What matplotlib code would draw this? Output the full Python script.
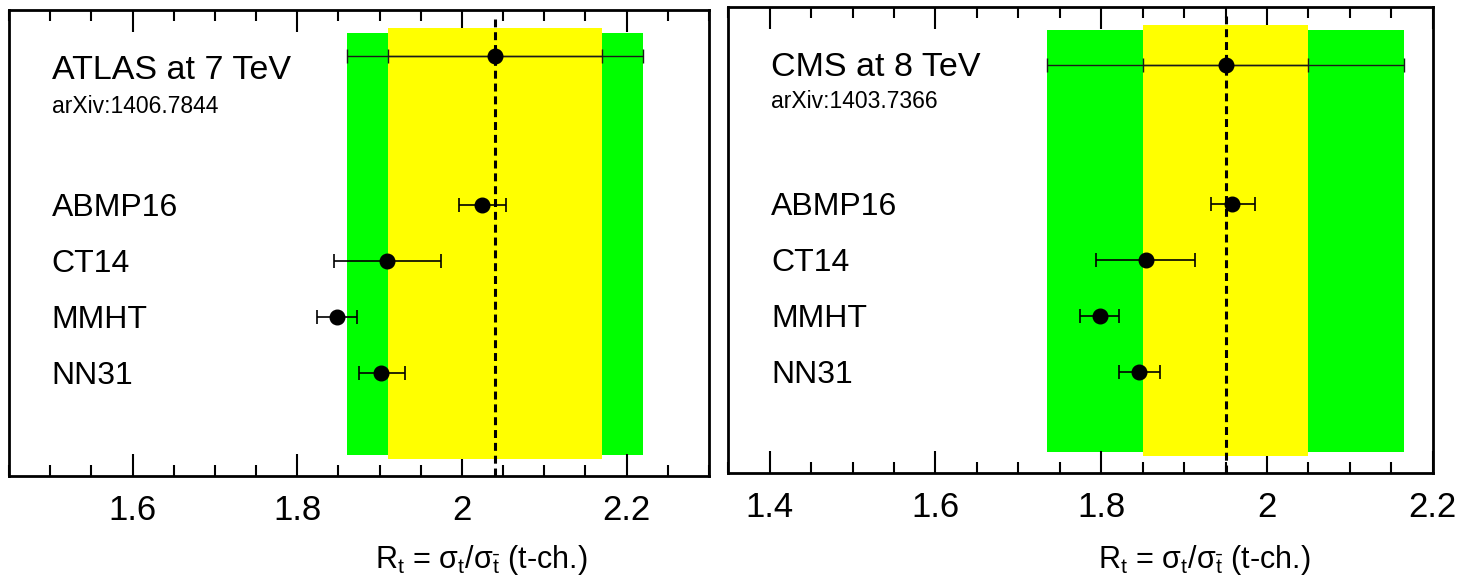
import matplotlib
matplotlib.use("Agg")
import matplotlib.pyplot as plt
from matplotlib import font_manager
from matplotlib.ticker import MultipleLocator, FuncFormatter
from matplotlib.transforms import blended_transform_factory

# ROOT-like helvetica look, narrow variant for the axis numbers if present
names = {f.name for f in font_manager.fontManager.ttflist}
MAIN = "Liberation Sans" if "Liberation Sans" in names else "DejaVu Sans"
NARROW = "Liberation Sans Narrow" if "Liberation Sans Narrow" in names else MAIN

plt.rcParams["font.family"] = MAIN
plt.rcParams["mathtext.fontset"] = "custom"
plt.rcParams["mathtext.rm"] = NARROW
plt.rcParams["mathtext.it"] = NARROW
plt.rcParams["mathtext.sf"] = NARROW

# ---- data ----
pdf_names = ["ABMP16", "CT14", "MMHT", "NN31"]

atlas_title = "ATLAS at 7 TeV"
atlas_ref = "arXiv:1406.7844"
atlas_val = 2.04
atlas_stat = 0.13
atlas_tot = 0.18
atlas_pdf = [2.024, 1.909, 1.848, 1.902]
atlas_lo = [1.996, 1.845, 1.824, 1.875]
atlas_hi = [2.053, 1.974, 1.873, 1.931]

cms_title = "CMS at 8 TeV"
cms_ref = "arXiv:1403.7366"
cms_val = 1.95
cms_stat = 0.10
cms_tot = 0.215
cms_pdf = [1.958, 1.854, 1.798, 1.846]
cms_lo = [1.932, 1.794, 1.775, 1.821]
cms_hi = [1.985, 1.913, 1.821, 1.871]

xlabel = r"R$_\mathrm{t}$ = $\mathrm{\sigma_t/\sigma_{\bar{t}}}$ (t-ch.)"


def draw_panel(fig, rect, xlim, title, ref, val, stat, tot, pts, lo, hi, top_row, rows, label_base):
    ax = fig.add_axes(rect)
    ax.set_xlim(*xlim)
    ax.set_ylim(0, 1)

    # measurement bands: total (green) and stat (yellow)
    ax.axvspan(val - tot, val + tot, ymin=0.045, ymax=0.95, color="#00ff00", lw=0, zorder=1)
    ax.axvspan(val - stat, val + stat, ymin=0.037, ymax=0.961, color="#ffff00", lw=0, zorder=2)
    ax.axvline(val, ymin=0, ymax=0.98, color="black", lw=2.2, dashes=(2.6, 1.6), zorder=3)

    # measured value with both error levels
    for err in (tot, stat):
        ax.errorbar([val], [top_row], xerr=[[err], [err]], fmt="none", ecolor="#1a1a1a",
                    elinewidth=1.0, capsize=5, capthick=1.0, zorder=4)
    ax.plot([val], [top_row], "o", color="black", ms=10.5, zorder=5)

    # predictions
    xerr = [[p - l for p, l in zip(pts, lo)], [h - p for p, h in zip(pts, hi)]]
    ax.errorbar(pts, rows, xerr=xerr, fmt="o", color="black", ecolor="black", ms=10.5,
                elinewidth=1.2, capsize=5, capthick=1.2, zorder=5)
    for name, y in zip(pdf_names, rows):
        ax.text(0.061, y - 0.0235, name, transform=ax.transAxes,
                fontsize=23, va="baseline", ha="left")

    ax.text(0.061, label_base[0], title, transform=ax.transAxes, fontsize=24.5, va="baseline")
    ax.text(0.061, label_base[1], ref, transform=ax.transAxes, fontsize=16.5, va="baseline")

    ax.xaxis.set_major_locator(MultipleLocator(0.2))
    ax.xaxis.set_minor_locator(MultipleLocator(0.05))
    ax.xaxis.set_major_formatter(FuncFormatter(lambda v, p: "%g" % round(v, 3)))
    ax.tick_params(which="both", direction="in", top=True, bottom=True, left=False,
                   right=False, labelleft=False, width=1.5)
    ax.tick_params(which="major", length=15.8, pad=13, labelsize=25)
    ax.tick_params(which="minor", length=7.9)
    for lab in ax.get_xticklabels():
        lab.set_fontfamily(NARROW)
    for s in ax.spines.values():
        s.set_linewidth(2.0)

    tr = blended_transform_factory(ax.transAxes, fig.transFigure)
    ax.text(0.827, 0.019, xlabel, transform=tr, ha="right", va="baseline", fontsize=22,
            family=NARROW)
    return ax


fig = plt.figure(figsize=(14.61, 5.79), dpi=100)

draw_panel(fig, [9 / 1461, 103 / 579, 700 / 1461, 466 / 579], (1.45, 2.3),
           atlas_title, atlas_ref, atlas_val, atlas_stat, atlas_tot,
           atlas_pdf, atlas_lo, atlas_hi, 0.902, [0.5815, 0.461, 0.341, 0.220], (0.853, 0.78))
draw_panel(fig, [728.3 / 1461, 106 / 579, 704.4 / 1461, 466 / 579], (1.35, 2.2),
           cms_title, cms_ref, cms_val, cms_stat, cms_tot,
           cms_pdf, cms_lo, cms_hi, 0.875, [0.577, 0.457, 0.337, 0.216], (0.852, 0.783))

fig.savefig("out.png", dpi=100)
